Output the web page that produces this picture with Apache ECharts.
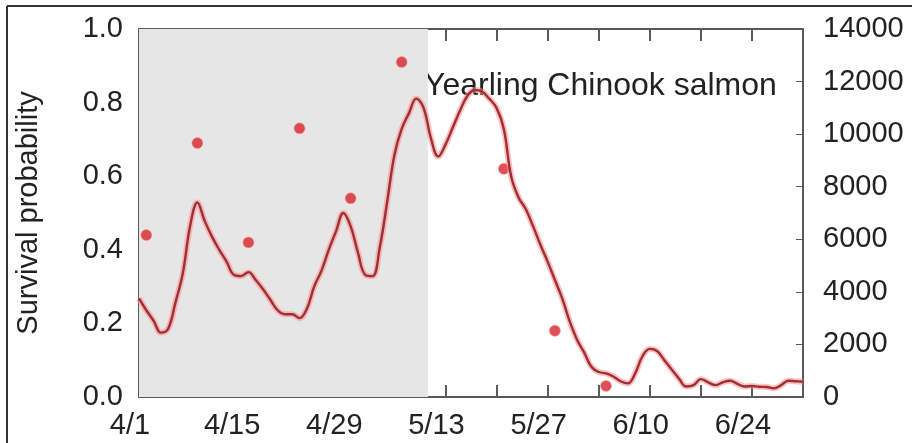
<!DOCTYPE html>
<html>
<head>
<meta charset="utf-8">
<script src="https://cdn.jsdelivr.net/npm/echarts@6/dist/echarts.min.js"></script>
<style>
  html, body { margin: 0; padding: 0; background: #fff; }
  #chart { width: 912px; height: 443px; }
</style>
</head>
<body>
<div id="chart"></div>
<script>
// x axis = days since 4/1, ticks every week, labels every two weeks
let xLabels = ['4/1', '4/15', '4/29', '5/13', '5/27', '6/10', '6/24'];
let shadeEnd = 39.6;

// survival probability (left axis), weekly release groups
let survDays = [1, 8, 15, 22, 29, 36, 50, 57, 64];
let survVals = [0.44, 0.69, 0.42, 0.73, 0.54, 0.91, 0.62, 0.18, 0.03];

// daily values on the right axis, day 0 = 4/1
let flowVals = [
  3750, 3300, 2900, 2450, 2600, 3600, 4700, 6500, 7400, 6700,
  6100, 5600, 5150, 4650, 4600, 4750, 4450, 4100, 3700, 3300,
  3150, 3150, 3000, 3350, 4200, 4800, 5600, 6300, 7000, 6500,
  5500, 4650, 4600, 5700, 7400, 9200, 10200, 10800, 11350, 11000,
  9850, 9150, 9600, 10250, 10900, 11450, 11680, 11620, 11350, 11000,
  10200, 8400, 7600, 7150, 6500, 5800, 5150, 4450, 3750, 2900,
  2200, 1700, 1150, 950, 900, 780, 600, 520, 900, 1550,
  1830, 1750, 1400, 1050, 700, 400, 450, 680, 560, 450,
  560, 620, 500, 400, 420, 390, 380, 330, 450, 620,
  600, 580
];

let font = '"Liberation Sans", Arial, sans-serif';

let chart = echarts.init(document.getElementById('chart'));

let flowData = flowVals.map(function (v, i) { return [i, v]; });

let option = {
  animation: false,
  grid: { left: 139, right: 109, top: 29, bottom: 46 },
  xAxis: [
    {
      type: 'value', min: 0, max: 91, interval: 7, position: 'bottom',
      axisLine: { show: true, onZero: false, lineStyle: { color: '#5a5a5a', width: 2 } },
      axisTick: { show: true, inside: true, length: 12, lineStyle: { color: '#5a5a5a', width: 2 } },
      splitLine: { show: false },
      axisLabel: {
        color: '#222', fontFamily: font, fontSize: 29, margin: 14, padding: [0, 18, 0, 0],
        formatter: function (v) { return v % 14 === 0 ? xLabels[v / 14] : ''; }
      }
    },
    {
      type: 'value', min: 0, max: 91, interval: 7, position: 'top',
      axisLine: { show: true, onZero: false, lineStyle: { color: '#5a5a5a', width: 2 } },
      axisTick: { show: true, inside: true, length: 12, lineStyle: { color: '#5a5a5a', width: 2 } },
      splitLine: { show: false },
      axisLabel: { show: false }
    }
  ],
  yAxis: [
    {
      type: 'value', min: 0, max: 1, interval: 0.2, position: 'left',
      axisLine: { show: true, onZero: false, lineStyle: { color: '#5a5a5a', width: 2 } },
      axisTick: { show: true, inside: true, length: 10 },
      splitLine: { show: false },
      name: 'Survival probability', nameLocation: 'middle', nameGap: 96,
      nameTextStyle: { color: '#222', fontFamily: font, fontSize: 29 },
      axisLabel: { color: '#222', fontFamily: font, fontSize: 29, margin: 16, formatter: function (v) { return v.toFixed(1); } }
    },
    {
      type: 'value', min: 0, max: 14000, interval: 2000, position: 'right',
      axisLine: { show: true, onZero: false, lineStyle: { color: '#5a5a5a', width: 2 } },
      axisTick: { show: true, inside: true, length: 7 },
      splitLine: { show: false },
      axisLabel: { color: '#222', fontFamily: font, fontSize: 29, margin: 20, formatter: function (v) { return String(v); } }
    }
  ],
  graphic: [
    { type: 'line', shape: { x1: 7, y1: 6, x2: 912, y2: 6 }, style: { stroke: '#333', lineWidth: 2 } },
    { type: 'line', shape: { x1: 7, y1: 6, x2: 7, y2: 443 }, style: { stroke: '#333', lineWidth: 2 } },
    { type: 'text', left: 156, top: 54, style: { text: '2018', font: '52px ' + font, fill: '#222' } },
    { type: 'text', left: 424, top: 70, style: { text: 'Yearling Chinook salmon', font: '32px ' + font, fill: '#222' } }
  ],
  series: [
    {
      // soft pink halo under the red line
      type: 'line',
      yAxisIndex: 1,
      data: flowData,
      smooth: 0.4,
      showSymbol: false,
      silent: true,
      lineStyle: { color: 'rgba(255,140,140,0.55)', width: 6 },
      markArea: {
        silent: true,
        itemStyle: { color: '#e6e6e6' },
        data: [[{ xAxis: 0 }, { xAxis: shadeEnd }]]
      }
    },
    {
      type: 'line',
      yAxisIndex: 1,
      data: flowData,
      smooth: 0.4,
      showSymbol: false,
      lineStyle: { color: '#9e2f35', width: 2.4 }
    },
    {
      type: 'scatter',
      data: survDays.map(function (d, i) { return [d, survVals[i]]; }),
      symbolSize: 11,
      itemStyle: { color: '#d4252c', borderColor: 'rgba(255,150,150,0.7)', borderWidth: 1 }
    }
  ]
};

chart.setOption(option);
</script>
</body>
</html>
